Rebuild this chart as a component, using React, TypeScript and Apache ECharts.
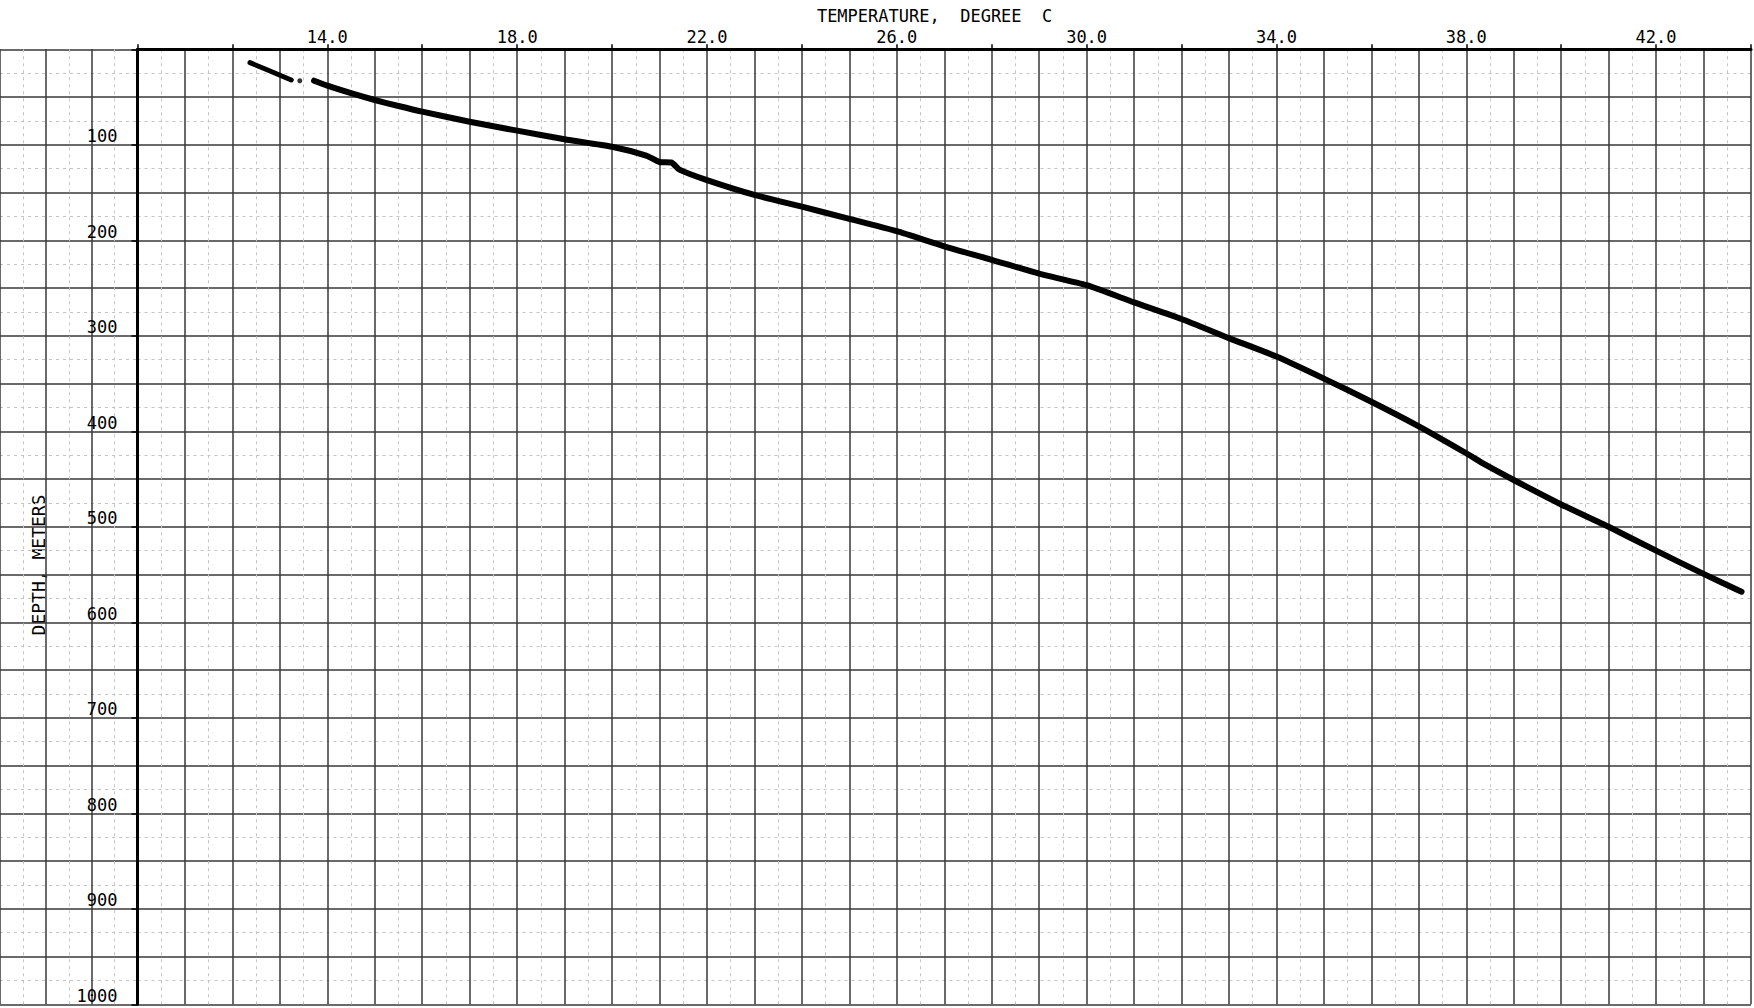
import React, { useEffect, useRef } from "react";
import * as echarts from "echarts";

// ---- data ----
const xLabelTemps = [14, 18, 22, 26, 30, 34, 38, 42];
const depthLabels = [100, 200, 300, 400, 500, 600, 700, 800, 900, 1000];

// first short run of the log (before the gap)
const upperTemp = [12.37, 12.78, 13.24];
const upperDepth = [14.0, 22.4, 32.1];
// isolated reading inside the gap
const gapTemp = [13.42];
const gapDepth = [32.9];
// main run of the log
const mainTemp = [
  13.72, 14.0, 14.5, 15.0, 15.5, 16.0, 17.0, 18.0, 19.0, 20.0, 20.72, 21.0,
  21.25, 21.42, 22.0, 23.0, 24.0, 25.0, 26.0, 27.0, 28.0, 29.0, 30.0, 31.0,
  32.0, 33.0, 34.0, 35.0, 36.0, 37.0, 38.0, 38.4, 39.0, 40.0, 41.0, 42.0, 43.0,
  43.8,
];
const mainDepth = [
  32.9, 38.1, 46.0, 53.1, 59.4, 65.3, 75.8, 85.2, 94.2, 102.0, 111.3, 118.0,
  118.5, 126.0, 137.0, 152.5, 164.8, 177.5, 190.5, 206.3, 220.4, 235.0, 247.0,
  265.0, 282.4, 302.4, 321.7, 344.8, 369.0, 394.8, 423.0, 435.0, 451.0, 476.6,
  500.0, 525.0, 549.3, 568.0,
];

const xTitle = "TEMPERATURE,  DEGREE  C";
const yTitle = "DEPTH, METERS";

// ---- layout ----
const W = 1754;
const H = 1008;
const PX_PER_DEG = 47.9;
const AXIS_X = 137.5; // position of 10 degC
const TOP = 49.3;
const PLOT_H = 955;
const FONT = '"DejaVu Sans Mono", monospace';
const GRID_COLOR = "#383838";
const TEX_COLOR = "#c4c4c4";

const zip = (a: number[], b: number[]) => a.map((v, i) => [v, b[i]]);

export default function App() {
  const ref = useRef<HTMLDivElement>(null);

  useEffect(() => {
    if (!ref.current) return;
    const chart = echarts.init(ref.current, undefined, { renderer: "svg" });

    const gridLine = { show: true, lineStyle: { color: GRID_COLOR, width: 1.5 } };
    const texLine = {
      show: true,
      lineStyle: { color: TEX_COLOR, width: 1, type: [3, 4] as any },
    };
    const hidden = {
      axisLine: { show: false },
      axisTick: { show: false },
      axisLabel: { show: false },
    };

    const leftGridLeft = AXIS_X - 3 * PX_PER_DEG;

    chart.setOption({
      animation: false,
      backgroundColor: "#ffffff",
      grid: [
        { left: leftGridLeft, top: TOP, width: 3 * PX_PER_DEG, height: PLOT_H },
        { left: AXIS_X, top: TOP, width: 34 * PX_PER_DEG, height: PLOT_H },
      ],
      xAxis: [
        {
          gridIndex: 0, type: "value", min: 7, max: 10, interval: 1, position: "top",
          ...hidden, splitLine: gridLine,
        },
        {
          gridIndex: 0, type: "value", min: 7, max: 10, interval: 1, position: "bottom",
          ...hidden, splitLine: { show: false },
          minorTick: { show: false, splitNumber: 2 }, minorSplitLine: texLine,
        },
        {
          gridIndex: 1, type: "value", min: 10, max: 44, interval: 2, position: "top",
          axisLine: { show: true, onZero: false, lineStyle: { color: "#000", width: 3 } },
          axisTick: { show: true, inside: false, length: 5, lineStyle: { color: "#000", width: 1.5 } },
          axisLabel: {
            show: true, margin: 4, color: "#000", fontFamily: FONT, fontSize: 17,
            formatter: (v: number) => (xLabelTemps.includes(v) ? v.toFixed(1) : ""),
          },
          splitLine: gridLine,
          minorTick: { show: false, splitNumber: 2 },
          minorSplitLine: gridLine,
        },
        {
          gridIndex: 1, type: "value", min: 10, max: 44, interval: 1, position: "bottom",
          ...hidden, splitLine: { show: false },
          minorTick: { show: false, splitNumber: 2 }, minorSplitLine: texLine,
        },
      ],
      yAxis: [
        {
          gridIndex: 0, type: "value", min: 0, max: 1000, interval: 50, inverse: true,
          position: "left", ...hidden, splitLine: gridLine,
        },
        {
          gridIndex: 0, type: "value", min: 0, max: 1000, interval: 50, inverse: true,
          position: "right", ...hidden, splitLine: { show: false },
          minorTick: { show: false, splitNumber: 2 }, minorSplitLine: texLine,
        },
        {
          gridIndex: 1, type: "value", min: 0, max: 1000, interval: 100, inverse: true,
          position: "left",
          axisLine: { show: true, onZero: false, lineStyle: { color: "#000", width: 3 } },
          axisTick: { show: true, inside: false, length: 6, lineStyle: { color: "#000", width: 1.5 } },
          axisLabel: {
            show: true, margin: 20, color: "#000", fontFamily: FONT, fontSize: 17,
            verticalAlign: "bottom", align: "right",
            formatter: (v: number) => (depthLabels.includes(v) ? String(v) : ""),
          },
          splitLine: gridLine,
          minorTick: { show: false, splitNumber: 2 },
          minorSplitLine: gridLine,
        },
        {
          gridIndex: 1, type: "value", min: 0, max: 1000, interval: 50, inverse: true,
          position: "right", ...hidden, splitLine: { show: false },
          minorTick: { show: false, splitNumber: 2 }, minorSplitLine: texLine,
        },
      ],
      graphic: [
        {
          type: "text", x: 934.6, y: 16, silent: true,
          style: {
            text: xTitle, font: `17px ${FONT}`, fill: "#000",
            align: "center", verticalAlign: "middle",
            textAlign: "center", textVerticalAlign: "middle",
          },
        },
        {
          type: "text", x: 38.5, y: 565, rotation: Math.PI / 2, silent: true,
          style: {
            text: yTitle, font: `18px ${FONT}`, fill: "#000",
            align: "center", verticalAlign: "middle",
            textAlign: "center", textVerticalAlign: "middle",
          },
        },
      ],
      series: [
        {
          type: "line", xAxisIndex: 2, yAxisIndex: 2, data: zip(upperTemp, upperDepth),
          showSymbol: false, smooth: false,
          lineStyle: { color: "#000", width: 5, cap: "round", join: "round" },
        },
        {
          type: "scatter", xAxisIndex: 2, yAxisIndex: 2, data: zip(gapTemp, gapDepth),
          symbol: "circle", symbolSize: 5, itemStyle: { color: "#000" },
        },
        {
          type: "line", xAxisIndex: 2, yAxisIndex: 2, data: zip(mainTemp, mainDepth),
          showSymbol: false, smooth: 0.2,
          lineStyle: { color: "#000", width: 6, cap: "round", join: "round" },
        },
      ],
    });

    return () => chart.dispose();
  }, []);

  return (
    <div
      ref={ref}
      style={{ position: "absolute", left: 0, top: 0, width: W, height: H, overflow: "hidden", background: "#fff" }}
    />
  );
}
